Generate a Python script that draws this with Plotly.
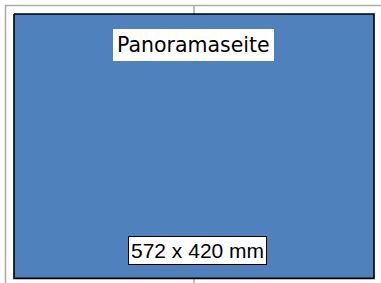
import plotly.graph_objects as go

# Data (mm)
page_width_mm = 572
page_height_mm = 420
page_title = "Panoramaseite"
size_label = f"{page_width_mm} x {page_height_mm} mm"
frame_margin_mm = 13.5

W, H = 381, 283
px_per_mm = 360 / page_width_mm
left_px, top_px = 14, 14
x_range = [-left_px / px_per_mm, (W - left_px) / px_per_mm]
y_range = [(H - top_px) / px_per_mm, -top_px / px_per_mm]

fig = go.Figure()

m = frame_margin_mm
big = page_width_mm * 2
# gray outer frame (top and left) and centre fold
fig.add_trace(go.Scatter(
    x=[big, -m, -m], y=[-m, -m, page_height_mm + big],
    mode="lines", line=dict(color="#acacac", width=1.6),
    hoverinfo="skip", showlegend=False))
fig.add_trace(go.Scatter(
    x=[page_width_mm / 2, page_width_mm / 2], y=[-m, page_height_mm + big],
    mode="lines", line=dict(color="#acacac", width=1.6),
    hoverinfo="skip", showlegend=False))
# page rectangle
fig.add_trace(go.Scatter(
    x=[0, page_width_mm, page_width_mm, 0, 0],
    y=[0, 0, page_height_mm, page_height_mm, 0],
    mode="lines", fill="toself", fillcolor="#4f81bd",
    line=dict(color="#000000", width=1.6),
    hoverinfo="skip", showlegend=False))

fig.add_annotation(
    x=page_width_mm / 2 - 1.5, y=49, text=page_title, showarrow=False,
    font=dict(family="DejaVu Sans", size=20.5, color="black"),
    bgcolor="white", borderpad=4, borderwidth=0)
fig.add_annotation(
    x=291.5, y=376.5, text=size_label, showarrow=False,
    font=dict(family="Liberation Sans, Arial", size=21, color="black"),
    bgcolor="white", bordercolor="black", borderwidth=1, borderpad=2)

fig.update_layout(
    width=W, height=H, margin=dict(l=0, r=0, t=0, b=0),
    paper_bgcolor="white", plot_bgcolor="white",
    xaxis=dict(range=x_range, visible=False, fixedrange=True),
    yaxis=dict(range=y_range, visible=False, fixedrange=True),
)
fig.write_html(
    "out.html",
    config={"displayModeBar": False},
    post_script="document.body.style.margin='0';document.body.style.overflow='hidden';",
)
